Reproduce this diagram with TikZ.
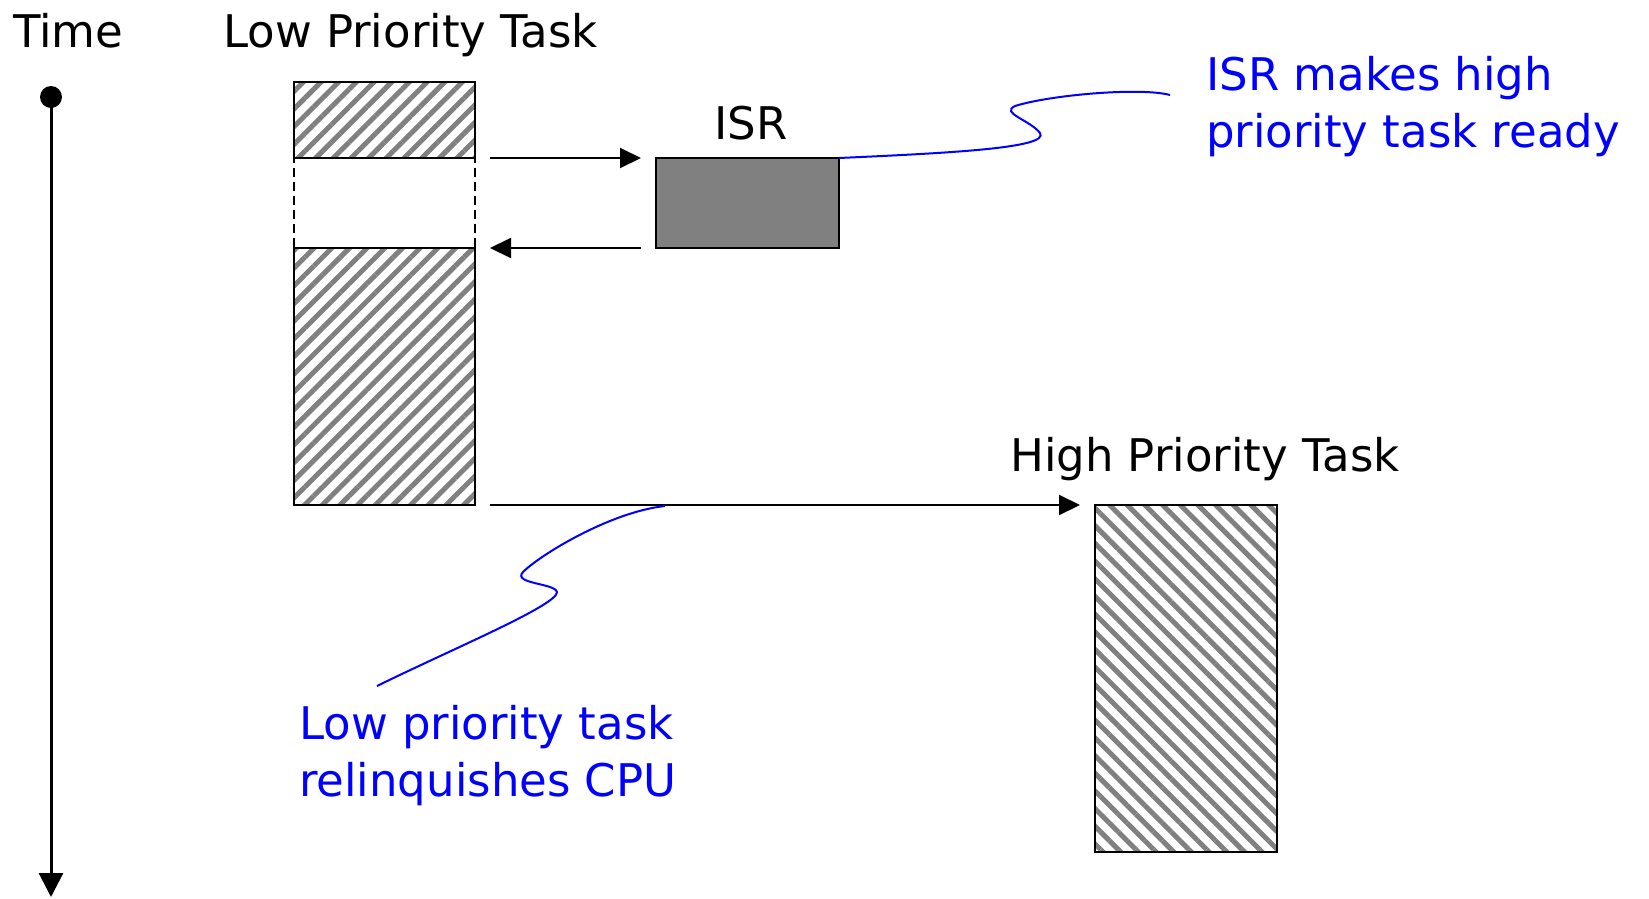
\documentclass[tikz,border=0pt]{standalone}
\usepackage{fontspec}
\setmainfont{DejaVu Sans}
\usetikzlibrary{arrows.meta,patterns.meta}

\tikzset{
  block/.style={draw, line width=2.5pt, inner sep=0pt, outer sep=0pt},
  hatchup/.style={block, pattern={Lines[angle=45,distance=12.5pt,line width=5pt]}, pattern color=gray},
  hatchdown/.style={block, pattern={Lines[angle=-45,distance=12.5pt,line width=5pt]}, pattern color=gray},
  gapbox/.style={draw, line width=2.5pt, dash pattern=on 9pt off 5pt, inner sep=0pt, outer sep=0pt},
  isrbox/.style={block, fill=gray},
  flow/.style={line width=2pt, -{Triangle[length=21pt,width=20pt]}, shorten <=15pt, shorten >=15pt},
  note/.style={blue, line width=2pt},
  lbl/.style={font=\fontsize{45}{57}\selectfont, inner sep=0pt},
}

\begin{document}
\begin{tikzpicture}[x=1pt,y=-1pt]
   \useasboundingbox (0,0) rectangle (1649,898);

   %% Zeitachse
   \node[lbl, anchor=base west] (time) at (13,47) {Time};
   \coordinate (t0) at (51,97);
   \coordinate (t1) at (51,897);
   \draw[line width=3pt, -{Triangle[length=24pt,width=24pt]}] (t0) -- (t1);
   \fill (t0) circle (11pt);

   %% Low Priority Task
   \node[lbl, anchor=base west] (lowlbl) at (223,47) {Low Priority Task};
   \node[gapbox, minimum width=181pt, minimum height=90pt] (lowgap) at (384.5,203) {};
   \node[hatchup, minimum width=181pt, minimum height=76pt] (lowA) at (384.5,120) {};
   \node[hatchup, minimum width=181pt, minimum height=257pt] (lowB) at (384.5,376.5) {};

   %% ISR
   \node[isrbox, minimum width=183pt, minimum height=90pt] (isr) at (747.5,203) {};
   \node[lbl, anchor=base] (isrlbl) at (751,139) {ISR};

   %% High Priority Task
   \node[hatchdown, minimum width=182pt, minimum height=347pt] (high) at (1186,678.5) {};
   \node[lbl, anchor=base west] (highlbl) at (1010,471) {High Priority Task};

   %% Pfeile
   \draw[flow] (lowA.south east) -- (isr.north west);
   \draw[flow] (isr.south west) -- (lowB.north east);
   \draw[flow] (lowB.south east) -- (high.north west);

   %% Kommentare
   \node[lbl, blue, anchor=north west, align=left] (isrnote) at (1206,56) {ISR makes high\\priority task ready};
   \coordinate (isrend) at (1170,95);
   \draw[note] (isr.north east) .. controls (950,153) and (1050,148) .. (1040,133)
      .. controls (1030,120) and (1000,113) .. (1015,106)
      .. controls (1050,95) and (1140,87) .. (isrend);

   \node[lbl, blue, anchor=north west, align=left] (lownote) at (299,705) {Low priority task\\relinquishes CPU};
   \coordinate (cpu0) at (665,506);
   \coordinate (cpu1) at (377,686);
   \draw[note] (cpu0) .. controls (610,512) and (540,555) .. (523,572)
      .. controls (512,584) and (555,583) .. (557,592)
      .. controls (558,605) and (450,650) .. (cpu1);
\end{tikzpicture}
\end{document}
